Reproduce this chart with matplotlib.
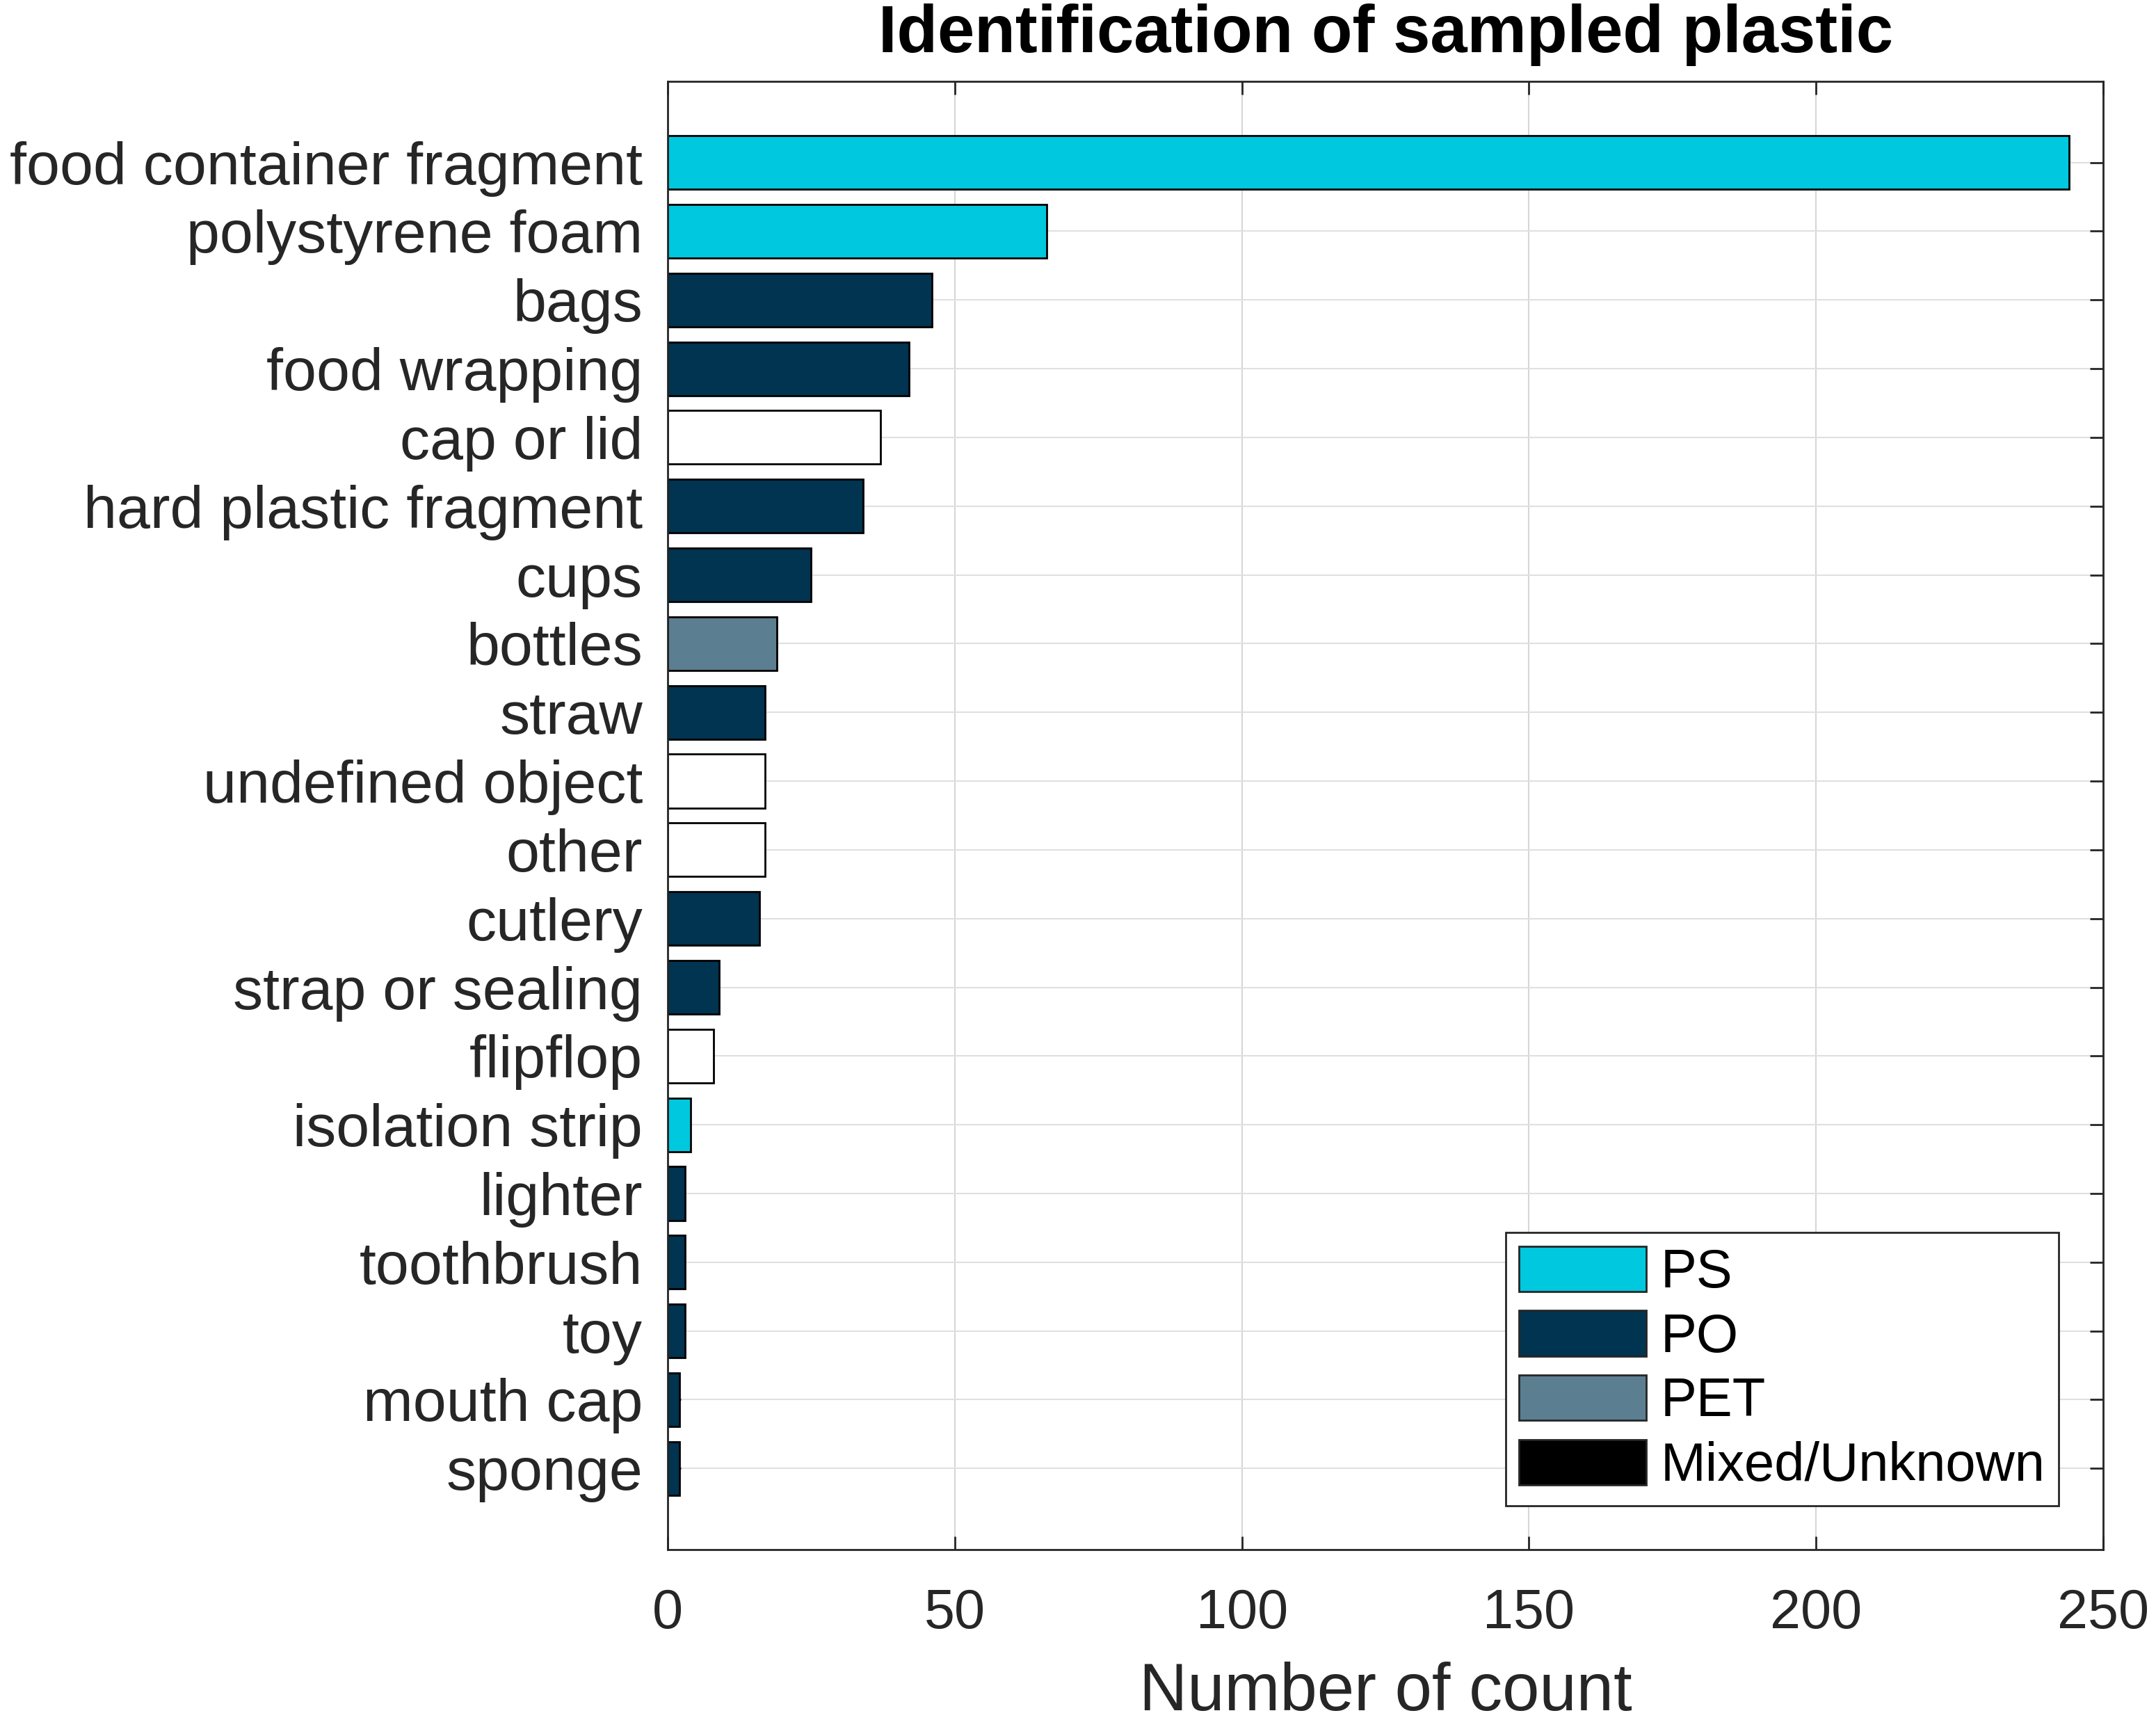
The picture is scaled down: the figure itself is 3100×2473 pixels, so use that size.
import numpy as np
import matplotlib.pyplot as plt
from matplotlib.patches import Patch

plt.rcParams['font.family'] = ['Liberation Sans', 'DejaVu Sans']

# data, top to bottom
items = ['food container fragment', 'polystyrene foam', 'bags', 'food wrapping',
         'cap or lid', 'hard plastic fragment', 'cups', 'bottles', 'straw',
         'undefined object', 'other', 'cutlery', 'strap or sealing', 'flipflop',
         'isolation strip', 'lighter', 'toothbrush', 'toy', 'mouth cap', 'sponge']
counts = [244, 66, 46, 42, 37, 34, 25, 19, 17, 17, 17, 16, 9, 8, 4, 3, 3, 3, 2, 2]
polymer = ['PS', 'PS', 'PO', 'PO', 'Mixed/Unknown', 'PO', 'PO', 'PET', 'PO',
           'Mixed/Unknown', 'Mixed/Unknown', 'PO', 'PO', 'Mixed/Unknown',
           'PS', 'PO', 'PO', 'PO', 'PO', 'PO']
types = ['PS', 'PO', 'PET', 'Mixed/Unknown']
# bars of mixed/unknown come out white, the legend shows them black
bar_colors = {'PS': '#00C8DE', 'PO': '#003450', 'PET': '#5C7E91', 'Mixed/Unknown': '#FFFFFF'}
legend_colors = {'PS': '#00C8DE', 'PO': '#003450', 'PET': '#5C7E91', 'Mixed/Unknown': '#000000'}

dark = '#262626'

fig = plt.figure(figsize=(31, 24.73), dpi=100)
ax = fig.add_axes([0.3097, 0.0991, 0.6658, 0.8536])

y = np.arange(len(items))
ax.barh(y, counts, height=0.78, color=[bar_colors[p] for p in polymer],
        edgecolor='black', linewidth=2, zorder=2)

ax.set_xlim(0, 250)
ax.set_ylim(len(items) - 1 + 1.18, -1.18)
ax.set_xticks([0, 50, 100, 150, 200, 250])
ax.set_yticks(y)
ax.set_yticklabels(items)

# grid behind the bars, ticks on top
for xv in ax.get_xticks():
    ax.axvline(xv, color='#D6D6D6', linewidth=1.5, zorder=0)
for yv in y:
    ax.axhline(yv, color='#E0E0E0', linewidth=1.5, zorder=0)

ax.tick_params(axis='both', direction='in', length=14, width=2, color=dark,
               top=True, right=True, labelcolor=dark)
ax.tick_params(axis='y', labelsize=62, pad=26)
ax.tick_params(axis='x', labelsize=57, pad=40)
for s in ax.spines.values():
    s.set_linewidth(2)
    s.set_color(dark)

ax.set_xlabel('Number of count', fontsize=69, color=dark, labelpad=22)
ax.set_title('Identification of sampled plastic', fontsize=69, fontweight='bold',
             color='black', pad=30)

handles = [Patch(facecolor=legend_colors[t], edgecolor=dark, linewidth=2) for t in types]
leg = ax.legend(handles, types, loc='lower right', bbox_to_anchor=(0.969, 0.03),
                borderaxespad=0, fontsize=56, handlelength=2.35, handleheight=0.92,
                handletextpad=0.27, labelspacing=0.22, borderpad=0.25,
                fancybox=False, framealpha=1, edgecolor=dark)
leg.get_frame().set_linewidth(2)

fig.savefig('out.png', dpi=100)
